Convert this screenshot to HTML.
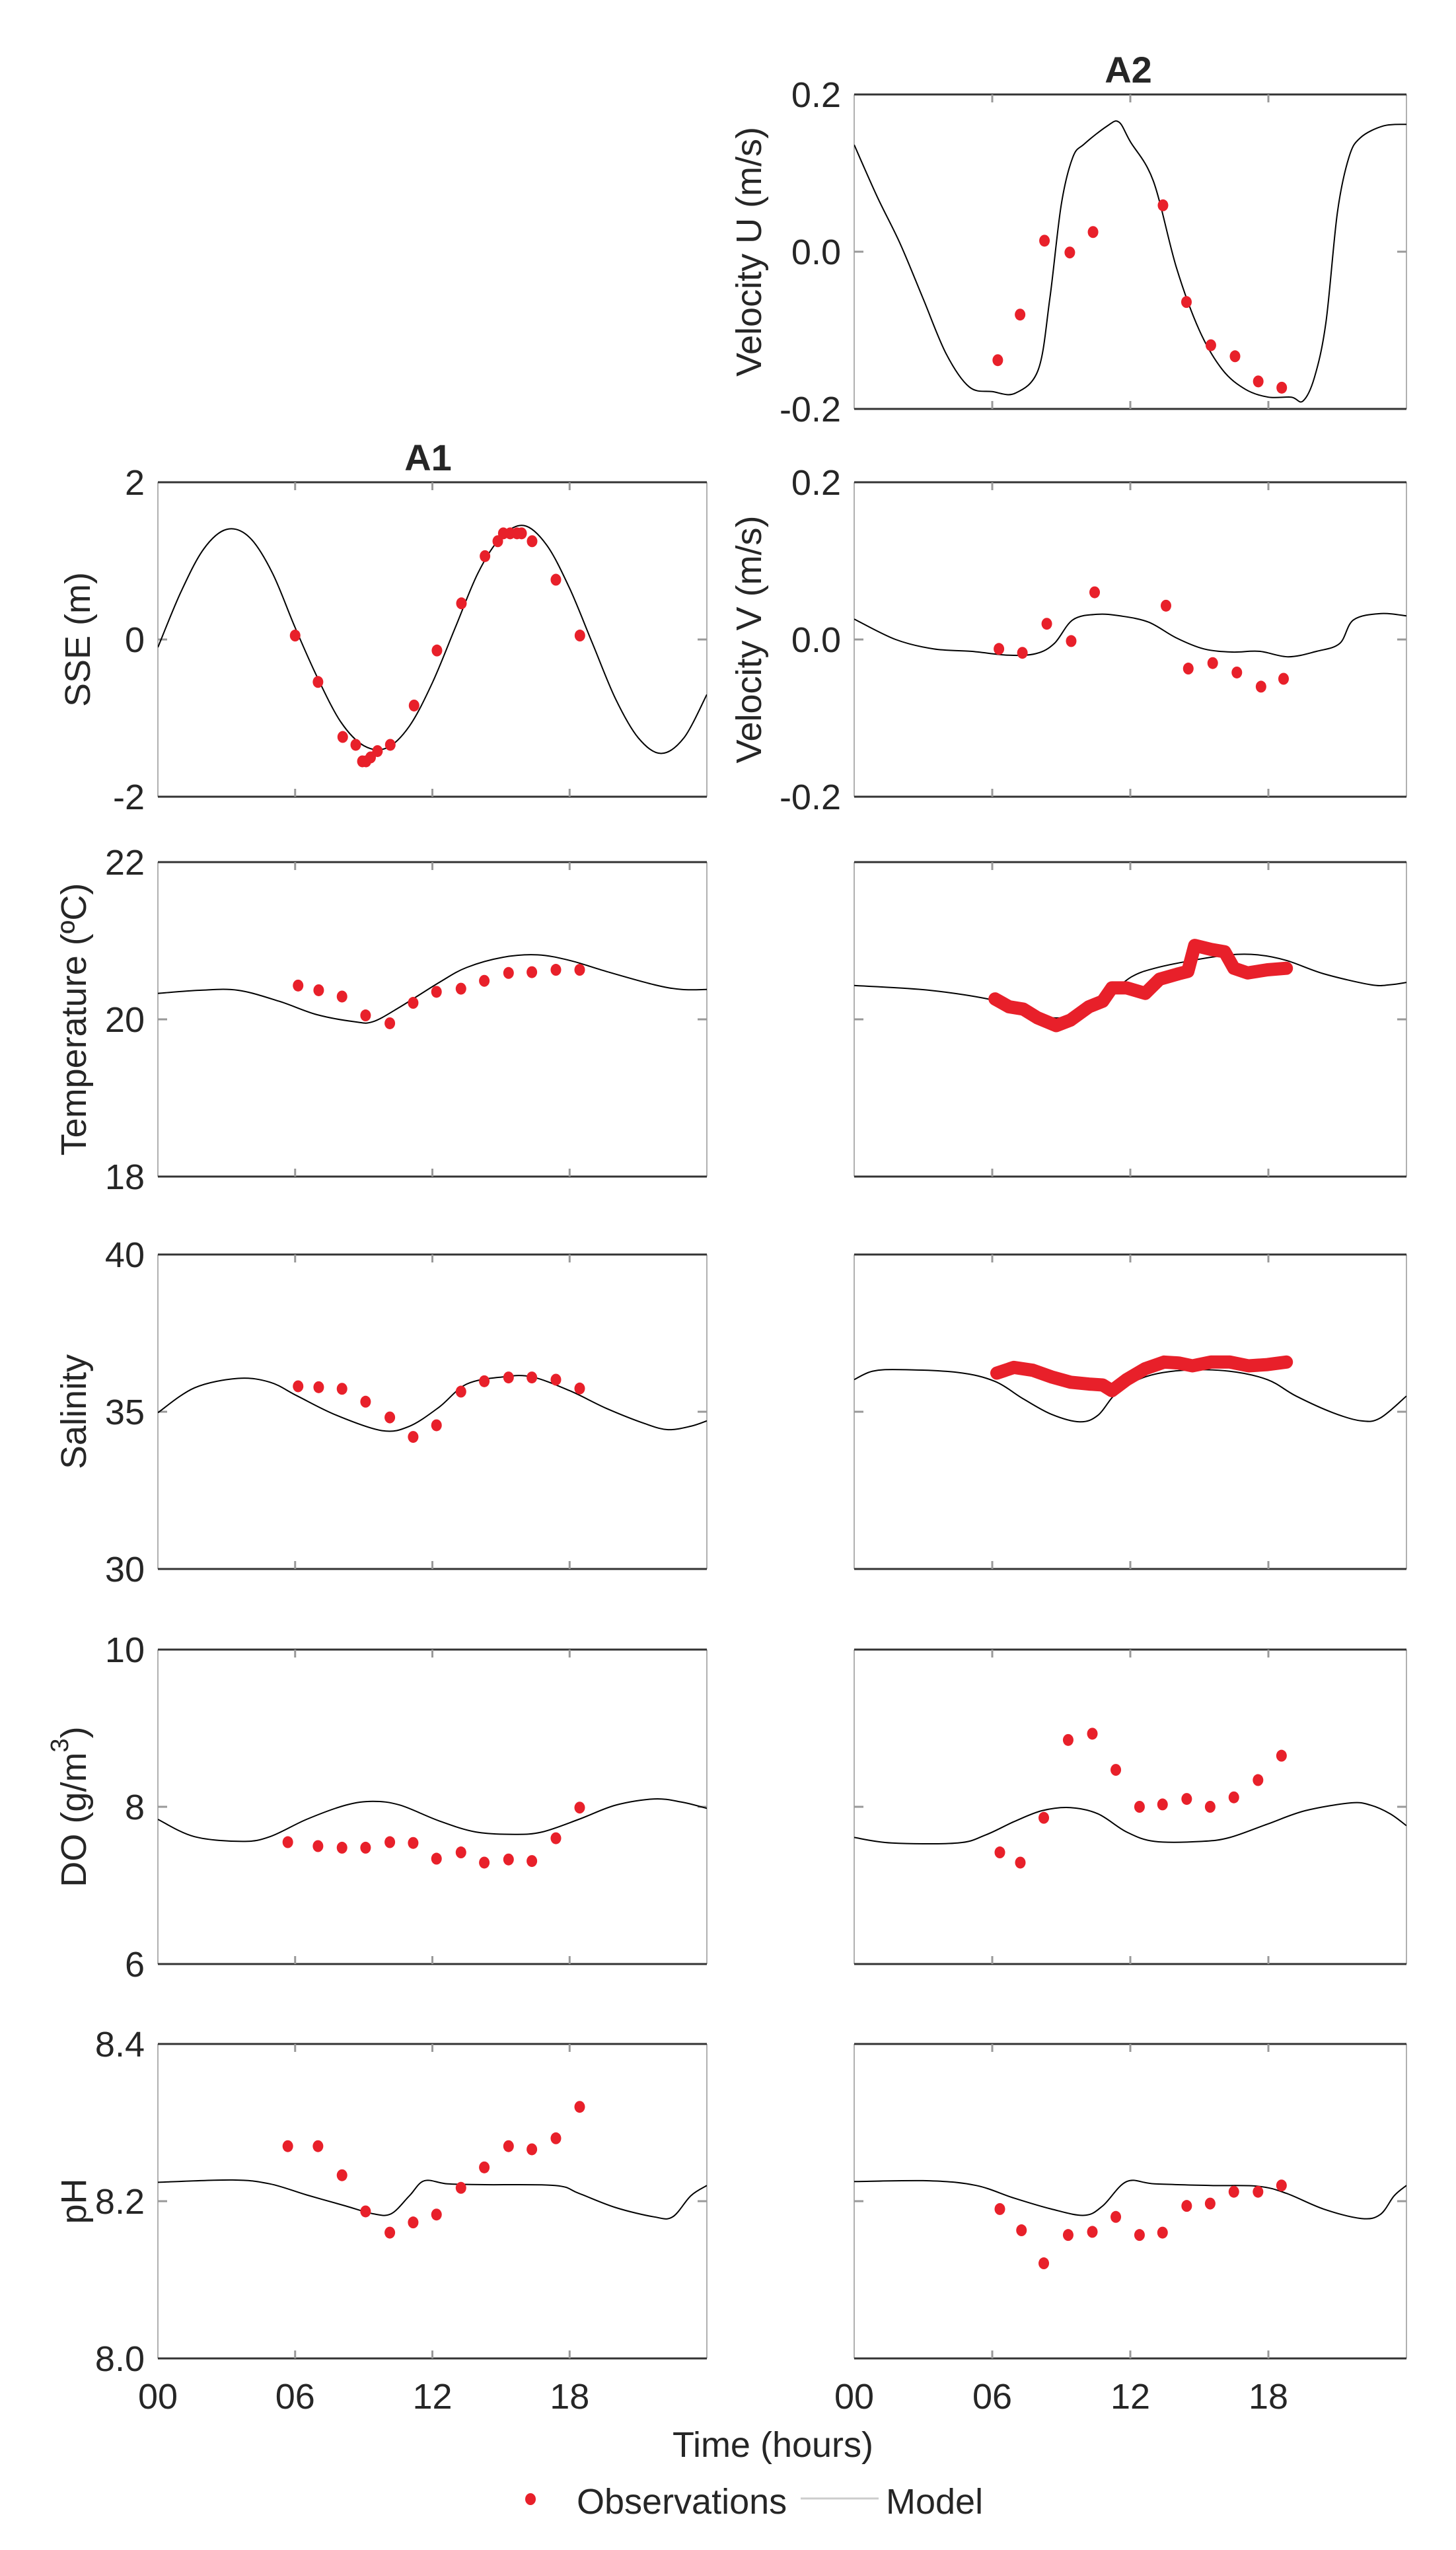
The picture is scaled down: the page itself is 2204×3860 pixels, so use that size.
<!DOCTYPE html>
<html><head><meta charset="utf-8"><style>
html,body{margin:0;padding:0;background:#fff}
svg text{font-family:"Liberation Sans",Arial,sans-serif;fill:#262626}
</style></head><body>
<svg id="fig" width="2204" height="3855" viewBox="0 0 2204 3855" xmlns="http://www.w3.org/2000/svg">
<rect width="2204" height="3855" fill="#fff"/>
<g id="root"></g>
</svg>
<script>
// ---- data ----
const xTickLabels=["00","06","12","18"];
const xTickHours=[0,6,12,18];
// SSE (A1)
const sseModelX=[0,1,2,3,4,5,6,7,8,9,10,11,12,13,14,15,16,17,18,19,20,21,22,23,24];
const sseModelY=[-0.1,0.6,1.15,1.4,1.3,0.85,0.15,-0.5,-1.05,-1.35,-1.38,-1.1,-0.55,0.15,0.85,1.3,1.45,1.2,0.65,-0.05,-0.75,-1.25,-1.45,-1.25,-0.7];
const sseObsX=[6.0,7.0,8.08,8.65,8.94,9.1,9.3,9.6,10.16,11.2,12.2,13.27,14.3,14.86,15.1,15.4,15.7,15.9,16.36,17.4,18.45];
const sseObsY=[0.05,-0.54,-1.24,-1.34,-1.55,-1.55,-1.5,-1.42,-1.34,-0.84,-0.14,0.46,1.06,1.25,1.35,1.35,1.35,1.35,1.25,0.76,0.05];
// Velocity U (A2)
const uModelX=[0,1,2,3,4,5,6,7,8,8.5,9,9.5,10,11,11.5,12,13,14,15,16,17,18,19,19.5,20,20.5,21,21.5,22,23,24];
const uModelY=[0.136,0.07,0.01,-0.06,-0.13,-0.172,-0.178,-0.18,-0.15,-0.06,0.06,0.12,0.137,0.16,0.165,0.14,0.09,-0.02,-0.1,-0.15,-0.175,-0.185,-0.185,-0.19,-0.16,-0.09,0.05,0.12,0.145,0.16,0.162];
const uObsX=[6.24,7.21,8.27,9.37,10.38,13.42,14.44,15.5,16.55,17.56,18.58];
const uObsY=[-0.138,-0.08,0.014,-0.001,0.025,0.059,-0.064,-0.119,-0.133,-0.165,-0.173];
// Velocity V (A2)
const vModelX=[0,1.8,3.45,5.07,6.7,7.9,8.7,9.5,10.55,11.56,12.8,14.0,15.2,16.43,17.6,18.87,20.1,21.1,21.7,22.9,24];
const vModelY=[0.026,0.0,-0.012,-0.015,-0.02,-0.018,-0.005,0.025,0.032,0.03,0.022,0.002,-0.012,-0.016,-0.015,-0.022,-0.015,-0.005,0.025,0.033,0.03];
const vObsX=[6.29,7.31,8.37,9.43,10.45,13.55,14.52,15.58,16.63,17.68,18.66];
const vObsY=[-0.012,-0.017,0.02,-0.002,0.06,0.043,-0.037,-0.03,-0.042,-0.06,-0.05];
// Temperature
const t1ModelX=[0,1.84,3.5,5.3,6.95,8.6,9.4,10.6,12.3,13.5,15.1,16.6,18,19.6,21.7,22.9,24];
const t1ModelY=[20.33,20.37,20.37,20.23,20.06,19.97,19.97,20.16,20.47,20.66,20.79,20.82,20.75,20.61,20.44,20.38,20.38];
const t1ObsX=[6.13,7.03,8.05,9.08,10.14,11.16,12.18,13.25,14.27,15.33,16.35,17.4,18.44];
const t1ObsY=[20.43,20.37,20.29,20.05,19.95,20.21,20.35,20.39,20.49,20.59,20.6,20.63,20.63];
const t2ModelX=[0,3.27,6.1,7.35,8.57,9.8,11.0,12.05,13.06,14.7,16.3,17.55,18.78,20.4,22.45,23.3,24];
const t2ModelY=[20.43,20.37,20.24,20.09,20.02,20.06,20.3,20.54,20.65,20.75,20.82,20.82,20.75,20.58,20.44,20.44,20.47];
const t2ObsX=[6.12,6.73,7.35,7.96,8.78,9.4,10.2,10.8,11.2,11.84,12.65,13.27,14.1,14.5,14.8,15.5,16.1,16.5,17.1,17.96,18.78];
const t2ObsY=[20.26,20.16,20.13,20.02,19.92,19.99,20.16,20.23,20.4,20.4,20.33,20.51,20.58,20.61,20.94,20.89,20.86,20.65,20.59,20.63,20.65];
// Salinity
const s1ModelX=[0,1.6,3.5,4.9,6.1,7.8,9.8,11,12.3,13.5,15.1,16.35,18,19.6,21.3,22.3,23.3,24];
const s1ModelY=[34.97,35.76,36.06,35.94,35.5,34.89,34.4,34.54,35.15,35.88,36.11,36.11,35.67,35.11,34.62,34.43,34.54,34.71];
const s1ObsX=[6.13,7.03,8.05,9.08,10.14,11.16,12.18,13.25,14.27,15.33,16.35,17.4,18.44];
const s1ObsY=[35.81,35.78,35.73,35.32,34.82,34.2,34.57,35.64,35.97,36.09,36.09,36.02,35.74];
const s2ModelX=[0,0.8,2.0,4.5,6.1,7.35,8.57,9.8,10.6,11.4,12.65,14.3,16.3,17.96,19.2,20.8,22.04,22.86,24];
const s2ModelY=[36.02,36.29,36.34,36.25,35.97,35.41,34.92,34.68,34.89,35.59,36.11,36.32,36.29,36.02,35.5,34.97,34.71,34.8,35.5];
const s2ObsX=[6.2,6.94,7.76,8.57,9.4,10.2,10.8,11.2,11.84,12.65,13.47,14.1,14.7,15.5,16.33,17.14,17.96,18.78];
const s2ObsY=[36.23,36.41,36.32,36.11,35.94,35.88,35.85,35.67,36.02,36.37,36.58,36.55,36.46,36.58,36.58,36.46,36.5,36.58];
// DO
const d1ModelX=[0,1.6,3.7,4.9,6.5,8.2,9.4,10.6,12.3,13.9,15.6,16.8,18.4,20.0,21.7,22.9,24];
const d1ModelY=[7.84,7.62,7.56,7.62,7.84,8.02,8.07,8.02,7.82,7.68,7.65,7.68,7.84,8.02,8.1,8.06,7.98];
const d1ObsX=[5.68,7.0,8.05,9.08,10.14,11.16,12.18,13.25,14.27,15.33,16.35,17.4,18.44];
const d1ObsY=[7.55,7.5,7.48,7.48,7.55,7.54,7.34,7.42,7.29,7.33,7.31,7.6,7.99];
const d2ModelX=[0,1.63,4.5,5.7,6.94,8.16,9.4,10.6,11.84,13.06,15.1,16.33,17.96,19.6,21.6,22.45,23.3,24];
const d2ModelY=[7.61,7.54,7.54,7.64,7.81,7.95,7.99,7.91,7.68,7.56,7.56,7.61,7.78,7.95,8.05,8.02,7.91,7.76];
const d2ObsX=[6.33,7.22,8.24,9.3,10.35,11.37,12.4,13.4,14.45,15.47,16.5,17.55,18.57];
const d2ObsY=[7.42,7.29,7.86,8.85,8.93,8.47,8.0,8.03,8.1,8.0,8.12,8.34,8.65];
// pH
const p1ModelX=[0,3.27,4.9,6.5,8.2,9.4,10.2,11.0,11.65,12.67,14.3,17.37,18.4,20.0,21.7,22.5,23.3,24];
const p1ModelY=[8.224,8.227,8.222,8.208,8.194,8.184,8.184,8.207,8.226,8.222,8.221,8.22,8.21,8.192,8.18,8.18,8.207,8.22];
const p1ObsX=[5.68,7.0,8.05,9.08,10.14,11.16,12.18,13.25,14.27,15.33,16.35,17.4,18.44];
const p1ObsY=[8.27,8.27,8.233,8.187,8.16,8.173,8.183,8.217,8.243,8.27,8.266,8.28,8.32];
const p2ModelX=[0,3.27,5.3,6.94,8.57,10.0,10.8,11.84,13.06,15.5,17.55,18.78,20.4,22.04,22.86,23.47,24];
const p2ModelY=[8.225,8.226,8.22,8.204,8.19,8.182,8.194,8.225,8.222,8.22,8.219,8.21,8.19,8.178,8.183,8.207,8.22];
const p2ObsX=[6.33,7.27,8.24,9.3,10.35,11.37,12.4,13.4,14.45,15.47,16.5,17.55,18.57];
const p2ObsY=[8.19,8.163,8.121,8.157,8.161,8.18,8.157,8.16,8.194,8.197,8.212,8.212,8.22];

// ---- drawing ----
const NS="http://www.w3.org/2000/svg";
const root=document.getElementById('root');
function mk(tag,attrs,parent){const e=document.createElementNS(NS,tag);for(const k in attrs)e.setAttribute(k,attrs[k]);(parent||root).appendChild(e);return e;}
const COLS=[{x0:239,x1:1070},{x0:1293,x1:2129}];
const H=476;
const RED="#e8202a";

function smoothPath(pts){
  let d="M"+pts[0][0].toFixed(1)+","+pts[0][1].toFixed(1);
  for(let i=0;i<pts.length-1;i++){
    const p0=pts[Math.max(0,i-1)],p1=pts[i],p2=pts[i+1],p3=pts[Math.min(pts.length-1,i+2)];
    const c1x=p1[0]+(p2[0]-p0[0])/6,c1y=p1[1]+(p2[1]-p0[1])/6;
    const c2x=p2[0]-(p3[0]-p1[0])/6,c2y=p2[1]-(p3[1]-p1[1])/6;
    d+=" C"+c1x.toFixed(1)+","+c1y.toFixed(1)+" "+c2x.toFixed(1)+","+c2y.toFixed(1)+" "+p2[0].toFixed(1)+","+p2[1].toFixed(1);
  }
  return d;
}

function panel(o){
  const c=COLS[o.col];const top=o.top,bot=top+H;
  const g=mk('g',{});
  
  
  const xs=h=>c.x0+(c.x1-c.x0)*h/24;
  const ys=v=>top+(o.ymax-v)/(o.ymax-o.ymin)*H;
  // frame
  const fl=mk('line',{x1:c.x0,y1:top,x2:c.x0,y2:bot,stroke:'#b0b0b0','stroke-width':2},g);
  
  mk('line',{x1:c.x1,y1:top,x2:c.x1,y2:bot,stroke:'#b0b0b0','stroke-width':2},g);
  const ft=mk('line',{x1:c.x0,y1:top,x2:c.x1,y2:top,stroke:'#333','stroke-width':3},g);
  
  const fb=mk('line',{x1:c.x0,y1:bot,x2:c.x1,y2:bot,stroke:'#333','stroke-width':3},g);
  
  // x ticks
  for(let i=1;i<xTickHours.length;i++){
    const x=xs(xTickHours[i]);
    mk('line',{x1:x,y1:top,x2:x,y2:top+12,stroke:'#999','stroke-width':3},g);
    mk('line',{x1:x,y1:bot,x2:x,y2:bot-12,stroke:'#999','stroke-width':3},g);
  }
  // y mid tick
  const ym=ys(o.yticks[1]);
  mk('line',{x1:c.x0,y1:ym,x2:c.x0+14,y2:ym,stroke:'#999','stroke-width':3},g);
  mk('line',{x1:c.x1,y1:ym,x2:c.x1-14,y2:ym,stroke:'#999','stroke-width':3},g);
  if(o.showY){
    o.yticks.forEach((v,i)=>{
      const t=mk('text',{x:c.x0-20,y:ys(v)+19,'text-anchor':'end','font-size':54},g);
      
      
      t.textContent=o.ytickLabels[i];
    });
  }
  if(o.ylabel){
    const cy=top+H/2;
    const t=mk('text',{x:o.ylabelX,y:cy,'text-anchor':'middle','font-size':54,transform:`rotate(-90 ${o.ylabelX} ${cy})`,'dominant-baseline':'central'},g);
    
    
    if(o.sup){t.textContent=o.ylabel;const ts=mk('tspan',{'baseline-shift':'super','font-size':38},t);ts.textContent=o.sup;const ts2=mk('tspan',{},t);ts2.textContent=')';}
    else t.textContent=o.ylabel;
  }
  if(o.xlabels){
    xTickHours.forEach((h,i)=>{
      const t=mk('text',{x:xs(h),y:3646,'text-anchor':'middle','font-size':54},g);
      
      
      t.textContent=xTickLabels[i];
    });
  }
  // clip
  const cid='clip'+o.name;
  const cp=mk('clipPath',{id:cid},g);mk('rect',{x:c.x0,y:top,width:c.x1-c.x0,height:H},cp);
  // model
  const pts=o.mx.map((h,i)=>[xs(h),ys(o.my[i])]);
  const ml=mk('path',{d:smoothPath(pts),fill:'none',stroke:'#000','stroke-width':2,'clip-path':`url(#${cid})`},g);
  
  
  // observations
  if(o.dense){
    const op=o.ox.map((h,i)=>[xs(h),ys(o.oy[i])]);
    const pl=mk('polyline',{points:op.map(p=>p[0].toFixed(1)+','+p[1].toFixed(1)).join(' '),fill:'none',stroke:RED,'stroke-width':20,'stroke-linecap':'round','stroke-linejoin':'round'},g);
    
    
  } else {
    o.ox.forEach((h,i)=>{
      const d=mk('ellipse',{cx:xs(h),cy:ys(o.oy[i]),rx:8,ry:9,fill:RED},g);
      
      
    });
  }
}

const ROWS=[730,1305,1899,2497,3094];
panel({name:'velocity-u-a2',col:1,top:143,ymin:-0.2,ymax:0.2,yticks:[0.2,0,-0.2],ytickLabels:["0.2","0.0","-0.2"],showY:true,ylabel:'Velocity U (m/s)',ylabelX:1134,mx:uModelX,my:uModelY,ox:uObsX,oy:uObsY});
panel({name:'sse-a1',col:0,top:ROWS[0],ymin:-2,ymax:2,yticks:[2,0,-2],ytickLabels:["2","0","-2"],showY:true,ylabel:'SSE (m)',ylabelX:118,mx:sseModelX,my:sseModelY,ox:sseObsX,oy:sseObsY});
panel({name:'velocity-v-a2',col:1,top:ROWS[0],ymin:-0.2,ymax:0.2,yticks:[0.2,0,-0.2],ytickLabels:["0.2","0.0","-0.2"],showY:true,ylabel:'Velocity V (m/s)',ylabelX:1134,mx:vModelX,my:vModelY,ox:vObsX,oy:vObsY});
panel({name:'temperature-a1',col:0,top:ROWS[1],ymin:18,ymax:22,yticks:[22,20,18],ytickLabels:["22","20","18"],showY:true,ylabel:'Temperature (ºC)',ylabelX:112,mx:t1ModelX,my:t1ModelY,ox:t1ObsX,oy:t1ObsY});
panel({name:'temperature-a2',col:1,top:ROWS[1],ymin:18,ymax:22,yticks:[22,20,18],ytickLabels:[],showY:false,mx:t2ModelX,my:t2ModelY,ox:t2ObsX,oy:t2ObsY,dense:true});
panel({name:'salinity-a1',col:0,top:ROWS[2],ymin:30,ymax:40,yticks:[40,35,30],ytickLabels:["40","35","30"],showY:true,ylabel:'Salinity',ylabelX:112,mx:s1ModelX,my:s1ModelY,ox:s1ObsX,oy:s1ObsY});
panel({name:'salinity-a2',col:1,top:ROWS[2],ymin:30,ymax:40,yticks:[40,35,30],ytickLabels:[],showY:false,mx:s2ModelX,my:s2ModelY,ox:s2ObsX,oy:s2ObsY,dense:true});
panel({name:'do-a1',col:0,top:ROWS[3],ymin:6,ymax:10,yticks:[10,8,6],ytickLabels:["10","8","6"],showY:true,ylabel:'DO (g/m',sup:'3',ylabelX:112,mx:d1ModelX,my:d1ModelY,ox:d1ObsX,oy:d1ObsY});
panel({name:'do-a2',col:1,top:ROWS[3],ymin:6,ymax:10,yticks:[10,8,6],ytickLabels:[],showY:false,mx:d2ModelX,my:d2ModelY,ox:d2ObsX,oy:d2ObsY});
panel({name:'ph-a1',col:0,top:ROWS[4],ymin:8.0,ymax:8.4,yticks:[8.4,8.2,8.0],ytickLabels:["8.4","8.2","8.0"],showY:true,ylabel:'pH',ylabelX:112,mx:p1ModelX,my:p1ModelY,ox:p1ObsX,oy:p1ObsY,xlabels:true});
panel({name:'ph-a2',col:1,top:ROWS[4],ymin:8.0,ymax:8.4,yticks:[8.4,8.2,8.0],ytickLabels:[],showY:false,mx:p2ModelX,my:p2ModelY,ox:p2ObsX,oy:p2ObsY,xlabels:true});

// titles
let t=mk('text',{x:648,y:712,'text-anchor':'middle','font-size':56,'font-weight':'bold'});


t.textContent='A1';
t=mk('text',{x:1708,y:125,'text-anchor':'middle','font-size':56,'font-weight':'bold'});


t.textContent='A2';
t=mk('text',{x:1170,y:3719,'text-anchor':'middle','font-size':54});


t.textContent='Time (hours)';
// legend
const lg=mk('g',{});


let e=mk('ellipse',{cx:803,cy:3783,rx:8,ry:9,fill:RED},lg);


e=mk('text',{x:873,y:3805,'font-size':54},lg);


e.textContent='Observations';
e=mk('line',{x1:1212,y1:3782,x2:1330,y2:3782,stroke:'#ccc','stroke-width':3},lg);


e=mk('text',{x:1341,y:3805,'font-size':54},lg);


e.textContent='Model';
</script>
</body></html>
